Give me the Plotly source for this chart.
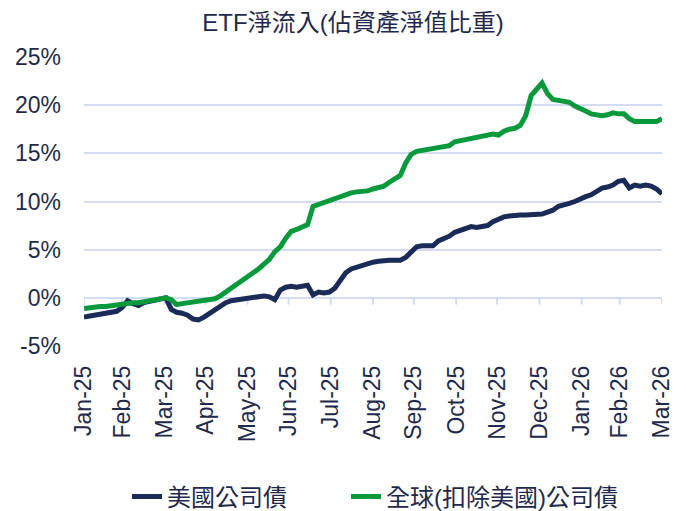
import pandas as pd
import plotly.graph_objects as go

# ---- data ----
dates = pd.date_range("2025-01-31", "2026-03-31", freq="4D")

us_corp = [
    -2.0, -1.9, -1.8, -1.8, -1.6, -1.5, -1.4, -1.0, -0.3, -0.6,
    -0.8, -0.5, -0.4, -0.3, -0.2, 0.0, -1.2, -1.5, -1.6, -1.8,
    -2.2, -2.3, -2.0, -1.6, -1.2, -0.8, -0.5, -0.3, -0.2, -0.1,
    0.0, 0.1, 0.1, 0.2, 0.1, -0.2, 0.8, 1.1, 1.2, 1.1,
    1.2, 1.3, 0.3, 0.6, 0.5, 0.6, 1.0, 1.8, 2.6, 3.0,
    3.2, 3.4, 3.6, 3.7, 3.8, 3.9, 3.9, 3.9, 3.9, 4.2,
    4.7, 5.3, 5.4, 5.4, 5.4, 5.9, 6.1, 6.4, 6.8, 7.0,
    7.2, 7.4, 7.3, 7.4, 7.5, 7.9, 8.2, 8.4, 8.5, 8.6,
    8.6, 8.6, 8.6, 8.7, 8.7, 8.9, 9.1, 9.5, 9.6, 9.8,
    10.0, 10.3, 10.5, 10.7, 11.0, 11.4, 11.5, 11.7, 12.1, 12.2,
    11.4, 11.7, 11.6, 11.7, 11.6, 11.3, 10.8,
]

global_ex_us = [
    -1.1, -1.0, -1.0, -0.9, -0.9, -0.8, -0.7, -0.7, -0.6, -0.5,
    -0.5, -0.4, -0.4, -0.3, -0.2, 0.0, -0.2, -0.7, -0.6, -0.5,
    -0.5, -0.4, -0.3, -0.2, -0.1, 0.2, 0.6, 1.0, 1.3, 1.7,
    2.1, 2.6, 3.0, 3.5, 4.0, 4.8, 5.3, 6.2, 6.9, 7.1,
    7.3, 7.6, 9.5, 9.7, 9.9, 10.2, 10.3, 10.6, 10.7, 10.9,
    11.0, 11.0, 11.1, 11.3, 11.4, 11.6, 12.0, 12.3, 12.7, 14.0,
    14.9, 15.2, 15.3, 15.4, 15.5, 15.5, 15.6, 15.8, 16.2, 16.3,
    16.4, 16.5, 16.7, 16.8, 16.9, 17.0, 16.9, 17.3, 17.5, 17.6,
    17.9, 18.9, 21.0, 21.7, 22.3, 21.2, 20.6, 20.5, 20.4, 20.3,
    19.9, 19.7, 19.4, 19.1, 19.0, 18.9, 19.0, 19.2, 19.1, 19.1,
    18.6, 18.3, 18.3, 18.3, 18.3, 18.3, 18.6,
]

tick_dates = ["2025-01-31", "2025-02-28", "2025-03-31", "2025-04-30", "2025-05-31",
              "2025-06-30", "2025-07-31", "2025-08-31", "2025-09-30", "2025-10-31",
              "2025-11-30", "2025-12-31", "2026-01-31", "2026-02-28", "2026-03-31"]
tick_labels = ["Jan-25", "Feb-25", "Mar-25", "Apr-25", "May-25", "Jun-25", "Jul-25",
               "Aug-25", "Sep-25", "Oct-25", "Nov-25", "Dec-25", "Jan-26", "Feb-26", "Mar-26"]

series_names = ["美國公司債", "全球(扣除美國)公司債"]
y_ticks = [-5, 0, 5, 10, 15, 20, 25]
y_tick_labels = ["-5%", "0%", "5%", "10%", "15%", "20%", "25%"]

# ---- style ----
NAVY = "#1b2b58"
GREEN = "#08993d"
TEXT = "#1f2a4a"
GRID = "#d3dcf2"
FONT = "Liberation Sans, Noto Sans CJK TC, sans-serif"
TICK_DEPTH = 0.7  # length of the small tick marks hanging below the 0% axis line

fig = go.Figure()
# small tick marks under the 0% axis line (drawn as downward error bars)
fig.add_trace(go.Scatter(
    x=tick_dates, y=[0] * len(tick_dates), mode="markers",
    marker=dict(size=1, color="rgba(0,0,0,0)"),
    error_y=dict(type="data", symmetric=False, array=[0] * len(tick_dates),
                 arrayminus=[TICK_DEPTH] * len(tick_dates),
                 color=GRID, thickness=2, width=0),
    showlegend=False, hoverinfo="skip"))
fig.add_trace(go.Scatter(x=dates, y=us_corp, mode="lines", name=series_names[0],
                         line=dict(color=NAVY, width=5), legend="legend"))
fig.add_trace(go.Scatter(x=dates, y=global_ex_us, mode="lines", name=series_names[1],
                         line=dict(color=GREEN, width=5), legend="legend2"))

x_range = [tick_dates[0], tick_dates[-1]]

legend_style = dict(orientation="h", xref="container", yref="container",
                    xanchor="left", yanchor="middle", y=1 - 497 / 511,
                    font=dict(size=24, color=TEXT), bgcolor="rgba(0,0,0,0)")

fig.update_layout(
    template="plotly_white",
    width=686, height=511,
    margin=dict(l=84, r=24, t=57, b=165, autoexpand=False),
    paper_bgcolor="white", plot_bgcolor="white",
    font=dict(family=FONT, size=23, color=TEXT),
    title=dict(text="ETF淨流入(佔資產淨值比重)", x=353 / 686, xanchor="center",
               y=1 - 23 / 511, yanchor="middle",
               font=dict(family=FONT, size=24, color=TEXT)),
    xaxis=dict(type="date", range=x_range, tickmode="array",
               tickvals=tick_dates, ticktext=tick_labels, tickangle=-90,
               showgrid=False, showline=False, zeroline=False,
               ticks="", ticklabelstandoff=14, automargin=False,
               tickfont=dict(size=23, color=TEXT)),
    yaxis=dict(range=[-5, 25], tickmode="array", tickvals=y_ticks,
               ticktext=y_tick_labels,
               showgrid=True, gridcolor=GRID, gridwidth=2,
               zeroline=True, zerolinecolor=GRID, zerolinewidth=2,
               showline=False, ticks="", ticklabelstandoff=22, automargin=False,
               tickfont=dict(size=23, color=TEXT)),
    legend=dict(legend_style, x=127 / 686),
    legend2=dict(legend_style, x=346 / 686),
    showlegend=True,
)

fig.write_html("out.html",
               config={"displayModeBar": False},
               post_script="document.body.style.margin='0';document.body.style.padding='0';")
